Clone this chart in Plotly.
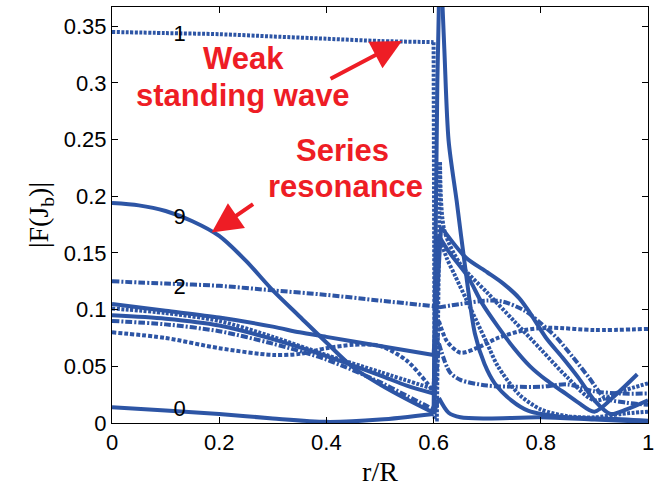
import plotly.graph_objects as go

# ---------------- data ----------------
x_ticks = [0, 0.2, 0.4, 0.6, 0.8, 1]
x_tick_labels = ["0", "0.2", "0.4", "0.6", "0.8", "1"]
y_ticks = [0, 0.05, 0.1, 0.15, 0.2, 0.25, 0.3, 0.35]
y_tick_labels = ["0", "0.05", "0.1", "0.15", "0.2", "0.25", "0.3", "0.35"]

# mode 1 (dotted)
s1_x = [0, 0.1, 0.2, 0.3, 0.4, 0.5, 0.6, 0.602, 0.606, 0.612, 0.62, 0.65, 0.7, 0.75, 0.8, 0.85, 0.9, 0.95, 1.0]
s1_y = [0.345, 0.344, 0.343, 0.341, 0.339, 0.337, 0.336, 0.003, 0.003, 0.23, 0.17, 0.14, 0.115, 0.09, 0.065, 0.04, 0.02, 0.028, 0.035]

# mode 9 (solid, series resonance)
s9_x = [0, 0.05, 0.1, 0.15, 0.2, 0.25, 0.3, 0.35, 0.4, 0.45, 0.5, 0.55, 0.6, 0.607, 0.612, 0.62, 0.628, 0.643, 0.659, 0.677, 0.695, 0.714, 0.745, 0.776, 0.85, 0.92, 1.0]
s9_y = [0.194, 0.192, 0.187, 0.178, 0.165, 0.143, 0.117, 0.094, 0.071, 0.049, 0.034, 0.021, 0.009, 0.3, 0.42, 0.33, 0.249, 0.196, 0.137, 0.079, 0.052, 0.035, 0.02, 0.011, 0.005, 0.004, 0.002]

# mode 2 (dash-dot)
s2_x = [0, 0.1, 0.2, 0.3, 0.4, 0.5, 0.6, 0.61, 0.65, 0.7, 0.73, 0.77, 0.8, 0.83, 0.86, 0.89, 0.92, 0.96, 1.0]
s2_y = [0.125, 0.123, 0.121, 0.117, 0.113, 0.108, 0.103, 0.102, 0.105, 0.108, 0.107, 0.099, 0.088, 0.075, 0.058, 0.04, 0.022, 0.018, 0.016]

# mode 0 (solid)
s0_x = [0, 0.1, 0.2, 0.3, 0.4, 0.5, 0.6, 0.61, 0.628, 0.65, 0.7, 0.8, 0.9, 1.0]
s0_y = [0.014, 0.011, 0.008, 0.004, 0.001, 0.003, 0.008, 0.022, 0.009, 0.005, 0.004, 0.005, 0.003, 0.001]

# other modes
sa_x = [0, 0.1, 0.2, 0.3, 0.35, 0.4, 0.5, 0.6, 0.607, 0.614, 0.66, 0.7, 0.73, 0.76, 0.78, 0.81, 0.84, 0.87, 0.9, 0.93, 0.96, 1.0]
sa_y = [0.105, 0.099, 0.093, 0.085, 0.080, 0.076, 0.068, 0.060, 0.12, 0.173, 0.146, 0.133, 0.123, 0.11, 0.097, 0.075, 0.058, 0.04, 0.02, 0.008, 0.012, 0.02]

sb_x = [0, 0.1, 0.2, 0.3, 0.4, 0.5, 0.55, 0.6, 0.61, 0.63, 0.664, 0.69, 0.72, 0.75, 0.78, 0.81, 0.84, 0.87, 0.9, 0.94, 0.98]
sb_y = [0.095, 0.092, 0.086, 0.074, 0.059, 0.042, 0.033, 0.026, 0.165, 0.15, 0.129, 0.106, 0.085, 0.066, 0.05, 0.038, 0.028, 0.018, 0.01, 0.025, 0.043]

sc_x = [0, 0.1, 0.2, 0.3, 0.4, 0.5, 0.55, 0.6, 0.61, 0.63, 0.65, 0.7, 0.75, 0.8, 0.85, 0.9, 0.95, 1.0]
sc_y = [0.090, 0.087, 0.081, 0.070, 0.056, 0.036, 0.024, 0.012, 0.07, 0.045, 0.038, 0.033, 0.032, 0.032, 0.034, 0.028, 0.026, 0.026]

sd_x = [0, 0.1, 0.2, 0.3, 0.4, 0.5, 0.6, 0.61, 0.625, 0.64, 0.66, 0.68, 0.7, 0.72, 0.76, 0.8, 0.85, 0.9, 0.95, 1.0]
sd_y = [0.101, 0.097, 0.090, 0.076, 0.060, 0.045, 0.030, 0.165, 0.145, 0.13, 0.11, 0.09, 0.07, 0.05, 0.025, 0.012, 0.006, 0.005, 0.008, 0.01]

se_x = [0, 0.1, 0.2, 0.3, 0.35, 0.4, 0.45, 0.5, 0.55, 0.6, 0.61, 0.625, 0.65, 0.68, 0.72, 0.77, 0.82, 0.9, 1.0]
se_y = [0.080, 0.075, 0.066, 0.060, 0.061, 0.066, 0.069, 0.068, 0.055, 0.028, 0.09, 0.072, 0.062, 0.066, 0.075, 0.082, 0.084, 0.082, 0.083]

label_names = ["1", "9", "2", "0"]
label_x = [0.126, 0.126, 0.126, 0.126]
label_y = [0.342, 0.180, 0.119, 0.011]

# ---------------- styling ----------------
BLUE = "#2D55A5"
RED = "#EE1D25"
DOT = "3px,1.5px"
DASHDOT = "7px,2px,2px,2px"
DASH = "4px,2px"
LW = 4

series = [
    (s1_x, s1_y, DOT),
    (s9_x, s9_y, "solid"),
    (s2_x, s2_y, DASHDOT),
    (s0_x, s0_y, "solid"),
    (sa_x, sa_y, "solid"),
    (sb_x, sb_y, "solid"),
    (sc_x, sc_y, DASHDOT),
    (sd_x, sd_y, DOT),
    (se_x, se_y, DASH),
]

fig = go.Figure()


def add_line(xs, ys, dash, shape):
    fig.add_trace(go.Scatter(x=xs, y=ys, mode="lines", line_shape=shape,
                             line=dict(color=BLUE, width=LW, dash=dash, smoothing=0.8),
                             showlegend=False, hoverinfo="skip"))


for xs, ys, dash in series:
    i_left = max(i for i, v in enumerate(xs) if v <= 0.6)
    i_right = min(i for i, v in enumerate(xs) if v >= 0.61)
    # inner region (smooth), jump across the boundary (straight), outer region (smooth)
    add_line(xs[:i_left + 1], ys[:i_left + 1], dash, "spline")
    add_line(xs[i_left:i_right + 1], ys[i_left:i_right + 1], dash, "linear")
    add_line(xs[i_right:], ys[i_right:], dash, "spline")

fig.add_trace(go.Scatter(x=label_x, y=label_y, mode="text", text=label_names,
                         textfont=dict(family="Liberation Sans, Arial", size=22, color="black"),
                         showlegend=False, hoverinfo="skip"))

ann_font = dict(family="Liberation Sans, Arial", size=31, color=RED)
fig.add_annotation(x=0.245, y=0.322, xref="x", yref="y", text="<b>Weak</b>",
                   showarrow=False, font=ann_font)
fig.add_annotation(x=0.245, y=0.289, xref="x", yref="y", text="<b>standing wave</b>",
                   showarrow=False, font=ann_font)
fig.add_annotation(x=0.43, y=0.240, xref="x", yref="y", text="<b>Series</b>",
                   showarrow=False, font=ann_font)
fig.add_annotation(x=0.435, y=0.209, xref="x", yref="y", text="<b>resonance</b>",
                   showarrow=False, font=ann_font)

# arrows
fig.add_annotation(x=0.541, y=0.337, ax=0.405, ay=0.303, xref="x", yref="y",
                   axref="x", ayref="y", text="", showarrow=True,
                   arrowhead=2, arrowsize=1.5, arrowwidth=4, arrowcolor=RED)
fig.add_annotation(x=0.186, y=0.168, ax=0.266, ay=0.194, xref="x", yref="y",
                   axref="x", ayref="y", text="", showarrow=True,
                   arrowhead=2, arrowsize=1.5, arrowwidth=4, arrowcolor=RED)

axis_common = dict(showgrid=False, zeroline=False, showline=True, linecolor="black",
                   linewidth=1, mirror="ticks", ticks="inside", ticklen=6,
                   tickcolor="black", tickfont=dict(family="Liberation Sans, Arial", size=22, color="black"))

fig.update_xaxes(range=[0, 1], tickvals=x_ticks, ticktext=x_tick_labels,
                 title=dict(text="r/R", font=dict(family="Liberation Serif, Times New Roman", size=28, color="black"), standoff=6),
                 **axis_common)
fig.update_yaxes(range=[0, 0.367], tickvals=y_ticks, ticktext=y_tick_labels,
                 title=dict(text="|F(J<sub>b</sub>)|", font=dict(family="Liberation Serif, Times New Roman", size=28, color="black"), standoff=6),
                 **axis_common)

fig.update_layout(width=660, height=493, margin=dict(l=112, r=10, t=6, b=70),
                  plot_bgcolor="white", paper_bgcolor="white")

fig.write_html("out.html")
